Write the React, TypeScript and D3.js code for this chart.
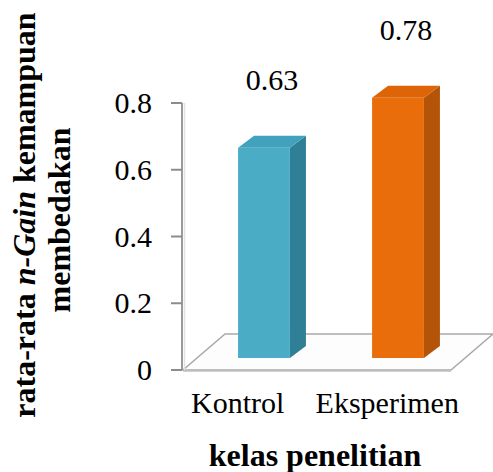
import React from "react";
import * as d3 from "d3";

// Mean n-Gain per research class
const categories = ["Kontrol", "Eksperimen"];
const values = [0.63, 0.78];
const valueLabels = ["0.63", "0.78"];
const tickValues = [0, 0.2, 0.4, 0.6, 0.8];
const tickLabels = ["0", "0.2", "0.4", "0.6", "0.8"];

const W = 493;
const H = 472;

// floor plane (front edge) and depth vector of the 3D box
const floorLeft = 183;
const floorRight = 451;
const depth = { dx: 42, dy: -36 };
// bars sit one third into the floor depth
const barFront = { dx: depth.dx / 3, dy: depth.dy / 3 };
const barSide = { dx: 16, dy: -12 };

const faces = [
  { front: "#4bacc6", side: "#2f7f96", top: "#42a2bd" },
  { front: "#e96d0b", side: "#b45408", top: "#dd6508" },
];

const serif = { fontFamily: "Liberation Serif" };

export default function App() {
  const x = d3
    .scaleBand<string>()
    .domain(categories)
    .range([floorLeft, floorRight])
    .paddingInner(0.613)
    .paddingOuter(0.3065);
  // category labels spread a little wider than the bars
  const xLabel = d3.scalePoint<string>().domain(categories).range([163, 462]).padding(0.5);
  const y = d3.scaleLinear().domain([0, 0.8]).range([370, 103]);

  const y0 = y(0);
  const fl: [number, number] = [floorLeft, y0];
  const fr: [number, number] = [floorRight, y0];
  const br: [number, number] = [floorRight + depth.dx, y0 + depth.dy];
  const bl: [number, number] = [floorLeft + depth.dx, y0 + depth.dy];
  const floorPath = d3.line()([fl, fr, br, bl]) + "Z";

  return (
    <svg width={W} height={H} style={{ position: "absolute", left: 0, top: 0, background: "#fff" }}>
      {/* floor */}
      <path d={floorPath} fill="#fdfdfd" stroke="#a9a9a9" strokeWidth={1.5} />
      <line x1={fl[0]} x2={fr[0]} y1={y0 + 1.5} y2={y0 + 1.5} stroke="#d0d0d0" strokeWidth={1} />

      {/* vertical axis with ticks */}
      <line x1={184.5} x2={184.5} y1={y(0.8)} y2={y0} stroke="#e2e2e2" strokeWidth={1.5} />
      <line x1={182} x2={182} y1={y(0.8)} y2={y0} stroke="#9a9a9a" strokeWidth={2} />
      {tickValues.map((t, i) => (
        <g key={t}>
          <line x1={171} x2={182} y1={y(t)} y2={y(t)} stroke="#8c8c8c" strokeWidth={2} />
          <text x={152} y={y(t) + 10} textAnchor="end" fontSize={30} fill="#000" style={serif}>
            {tickLabels[i]}
          </text>
        </g>
      ))}

      {/* bars */}
      {categories.map((c, i) => {
        const bw = x.bandwidth();
        const x0 = (x(c) as number) + barFront.dx;
        const x1 = x0 + bw;
        const yb = y0 + barFront.dy;
        const yt = y(values[i]) + barFront.dy;
        const sx = barSide.dx;
        const sy = barSide.dy;
        const col = faces[i];
        const front = d3.line()([
          [x0, yt],
          [x1, yt],
          [x1, yb],
          [x0, yb],
        ]) + "Z";
        const side = d3.line()([
          [x1, yt],
          [x1 + sx, yt + sy],
          [x1 + sx, yb + sy],
          [x1, yb],
        ]) + "Z";
        const top = d3.line()([
          [x0, yt],
          [x0 + sx, yt + sy],
          [x1 + sx, yt + sy],
          [x1, yt],
        ]) + "Z";
        return (
          <g key={c}>
            <path d={side} fill={col.side} />
            <path d={top} fill={col.top} />
            <path d={front} fill={col.front} />
            <text
              x={(x0 + x1) / 2 + 8}
              y={yt - 58}
              textAnchor="middle"
              fontSize={30}
              fill="#000"
              style={serif}
            >
              {valueLabels[i]}
            </text>
          </g>
        );
      })}

      {/* category labels */}
      {categories.map((c) => (
        <text
          key={c}
          x={xLabel(c)}
          y={413}
          textAnchor="middle"
          fontSize={30}
          fill="#000"
          style={serif}
        >
          {c}
        </text>
      ))}

      {/* axis titles */}
      <text
        x={315}
        y={466}
        textAnchor="middle"
        fontSize={32}
        fontWeight="bold"
        fill="#000"
        style={serif}
      >
        kelas penelitian
      </text>
      <text
        transform="translate(35,215) rotate(-90)"
        textAnchor="middle"
        fontSize={32}
        fontWeight="bold"
        fill="#000"
        style={serif}
      >
        rata-rata <tspan fontStyle="italic">n-Gain</tspan> kemampuan
      </text>
      <text
        transform="translate(70,220) rotate(-90)"
        textAnchor="middle"
        fontSize={32}
        fontWeight="bold"
        fill="#000"
        style={serif}
      >
        membedakan
      </text>
    </svg>
  );
}
